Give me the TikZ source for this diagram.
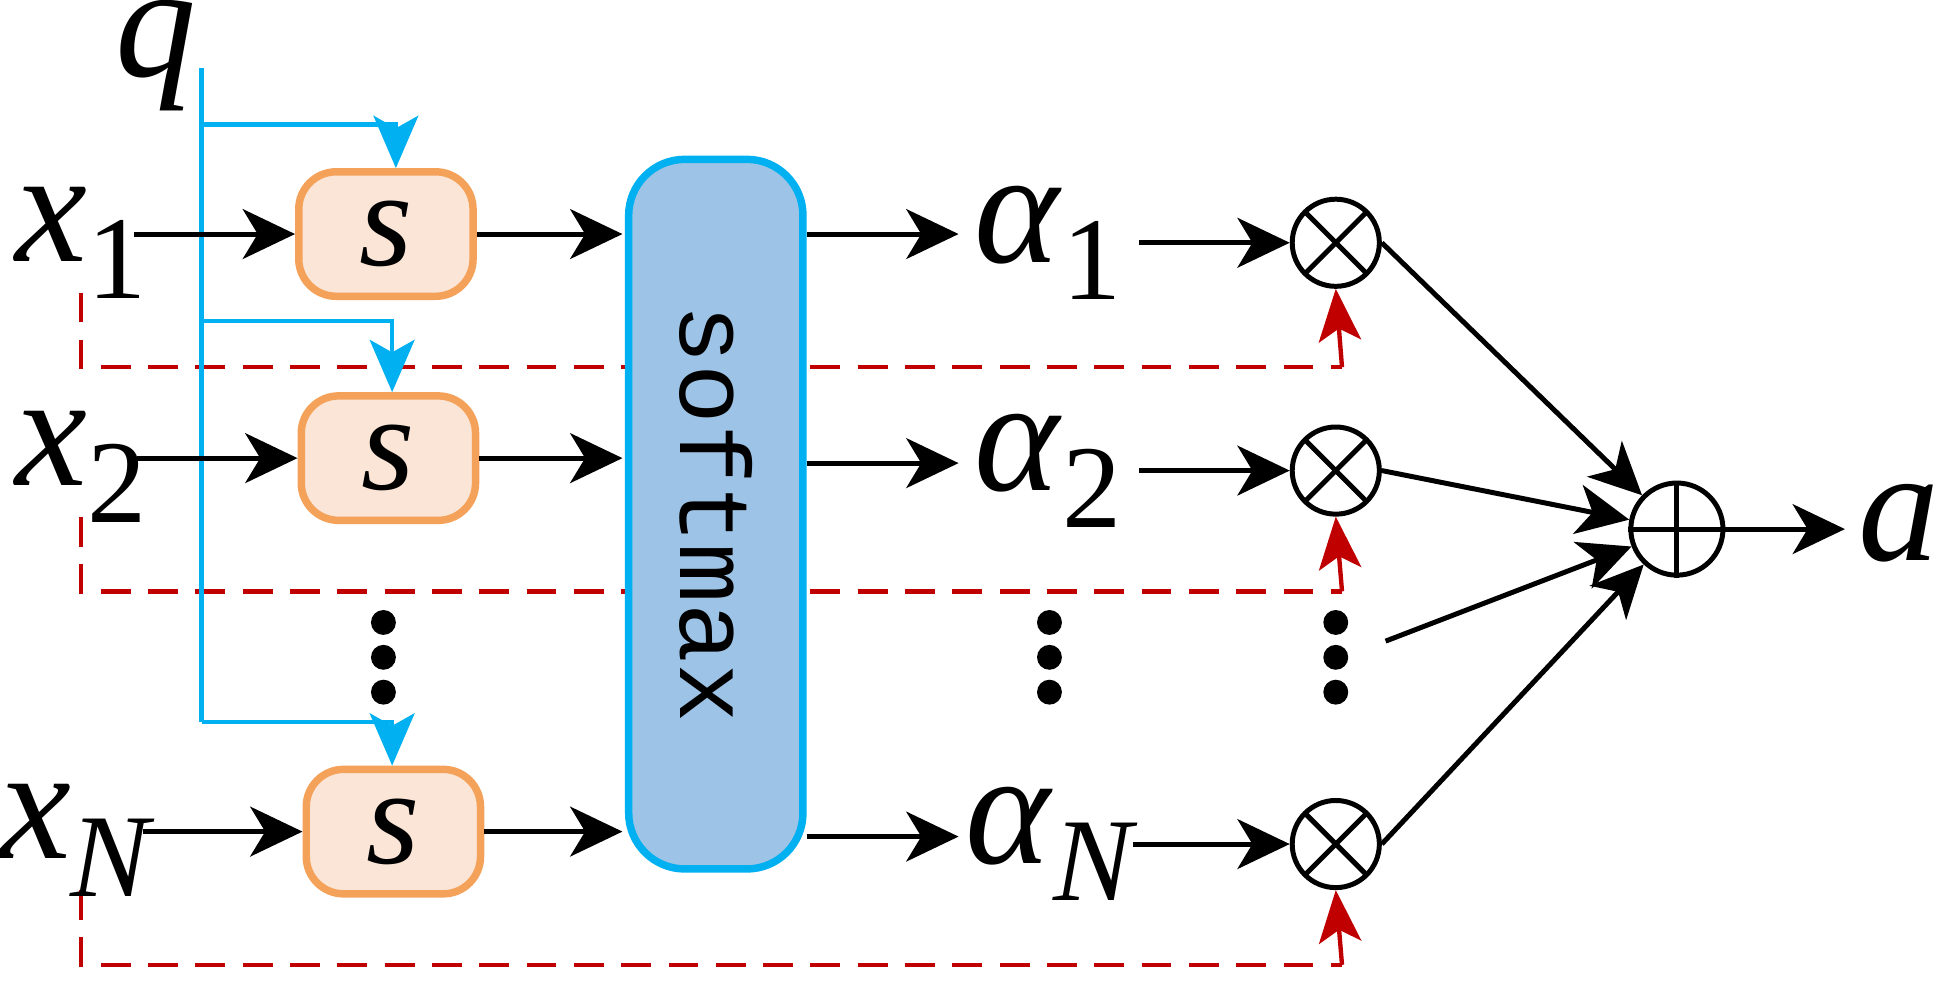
\documentclass[tikz,border=0pt]{standalone}
\usepackage{fontspec}
\setmainfont{Liberation Serif}
\newfontfamily\monof{Liberation Mono}
\usetikzlibrary{arrows.meta,calc}
\definecolor{qblue}{HTML}{00B0F0}
\definecolor{sfill}{HTML}{FBE5D6}
\definecolor{sbord}{HTML}{F4A15A}
\definecolor{smfill}{HTML}{9DC3E6}
\definecolor{dred}{HTML}{C00000}
\newcommand{\bigit}[2]{{\fontsize{130}{130}\selectfont\textit{#1}\raisebox{-30pt}{\fontsize{95}{95}\selectfont #2}}}
\tikzset{
 blk/.style={line width=4pt,-{Stealth[length=42pt,width=40pt,inset=12pt]}},
 blu/.style={qblue,line width=3.5pt},
 bluarr/.style={blu,-{Stealth[length=42pt,width=36pt,inset=10pt]}},
 red/.style={dred,line width=3.5pt,dash pattern=on 24pt off 14pt},
 redarr/.style={dred,line width=3.5pt,-{Stealth[length=42pt,width=34pt,inset=10pt]}},
 sbox/.style={draw=sbord,fill=sfill,line width=6pt,rounded corners=30pt,minimum width=140pt,minimum height=100pt,inner sep=0pt},
 lab/.style={inner sep=0pt,anchor=center},
 circ/.style={circle,draw,line width=4pt,minimum size=70pt,inner sep=0pt},
 dot/.style={circle,fill,inner sep=0pt,minimum size=20pt},
}
\begin{document}
\begin{tikzpicture}[x=1pt,y=-1pt]
\useasboundingbox (0,0) rectangle (1568,804);
% red dashed loops
\foreach \yt/\yb in {235/295,415/475,715/775}{
  \draw[red] (65,\yt) -- (65,\yb) -- (1078,\yb);
}
\coordinate (r1) at (1078,295); \coordinate (r2) at (1078,475); \coordinate (r3) at (1078,775);
% labels
\node[lab] (q) at (125,45) {{\fontsize{130}{130}\selectfont\textit{q}}};
\node[lab] (x1) at (65,195) {\bigit{x}{1}};
\node[lab] (x2) at (65,375) {\bigit{x}{2}};
\node[lab] (xN) at (62,675) {\bigit{x}{\textit{N}}};
% s boxes
\node[sbox] (s1) at (310,188) {{\fontsize{110}{110}\selectfont\textit{s}}};
\node[sbox] (s2) at (312,368) {{\fontsize{110}{110}\selectfont\textit{s}}};
\node[sbox] (sN) at (316,668) {{\fontsize{110}{110}\selectfont\textit{s}}};
% blue q lines
\coordinate (qt) at (162,55); \coordinate (qb) at (162,580);
\coordinate (t1) at (318,135); \coordinate (t2) at (315,315); \coordinate (t3) at (315,615);
\draw[blu] (qt) -- (qb);
\draw[bluarr] (162,100) -| (t1);
\draw[bluarr] (162,258) -| (t2);
\draw[bluarr] (qb) -| (t3);
% softmax
\node[draw=qblue,fill=smfill,line width=6pt,rounded corners=45pt,minimum width=140pt,minimum height=570pt,inner sep=0pt] (sm) at (575,413) {};
\node[rotate=-90,lab] at (sm.center) {{\monof\fontsize{80}{80}\selectfont softmax}};
% x -> s
\draw[blk] (108,188) -- (s1.west);
\draw[blk] (110,368) -- (s2.west);
\draw[blk] (115,668) -- (sN.west);
\draw[blk] (s1.east) -- (500,188);
\draw[blk] (s2.east) -- (500,368);
\draw[blk] (sN.east) -- (500,668);
% alphas
\node[lab] (a1) at (842,195) {\bigit{α}{1}};
\node[lab] (a2) at (842,378) {\bigit{α}{2}};
\node[lab] (aN) at (845,678) {\bigit{α}{\textit{N}}};
\draw[blk] (648,188) -- (770,188);
\draw[blk] (648,372) -- (770,372);
\draw[blk] (648,672) -- (770,672);
% otimes
\foreach \n/\y in {1/195,2/378,3/678}{
  \node[circ] (m\n) at (1073,\y) {};
  \draw[line width=4pt] ($(m\n)+(-24.7,-24.7)$) -- ($(m\n)+(24.7,24.7)$);
  \draw[line width=4pt] ($(m\n)+(-24.7,24.7)$) -- ($(m\n)+(24.7,-24.7)$);
}
\draw[blk] (915,195) -- (m1.west);
\draw[blk] (915,378) -- (m2.west);
\draw[blk] (910,678) -- (m3.west);
\draw[redarr] (r1) -- (m1.south);
\draw[redarr] (r2) -- (m2.south);
\draw[redarr] (r3) -- (m3.south);
% dots
\foreach \xx in {308,843,1073}{
  \node[dot] at (\xx,500) {}; \node[dot] at (\xx,528) {}; \node[dot] at (\xx,556) {};
}
% oplus
\node[circ,minimum size=74pt] (p) at (1347,425) {};
\draw[line width=4pt] (p.north) -- (p.south) (p.west) -- (p.east);
\coordinate (d4) at (1113,515);
\draw[blk] (m1.east) -- (p);
\draw[blk] (m2.east) -- (p);
\draw[blk] (d4) -- (p);
\draw[blk] (m3.east) -- (p);
\node[lab] (aout) at (1525,420) {{\fontsize{130}{130}\selectfont\textit{a}}};
\draw[blk] (p.east) -- (1482,425);
\end{tikzpicture}
\end{document}
